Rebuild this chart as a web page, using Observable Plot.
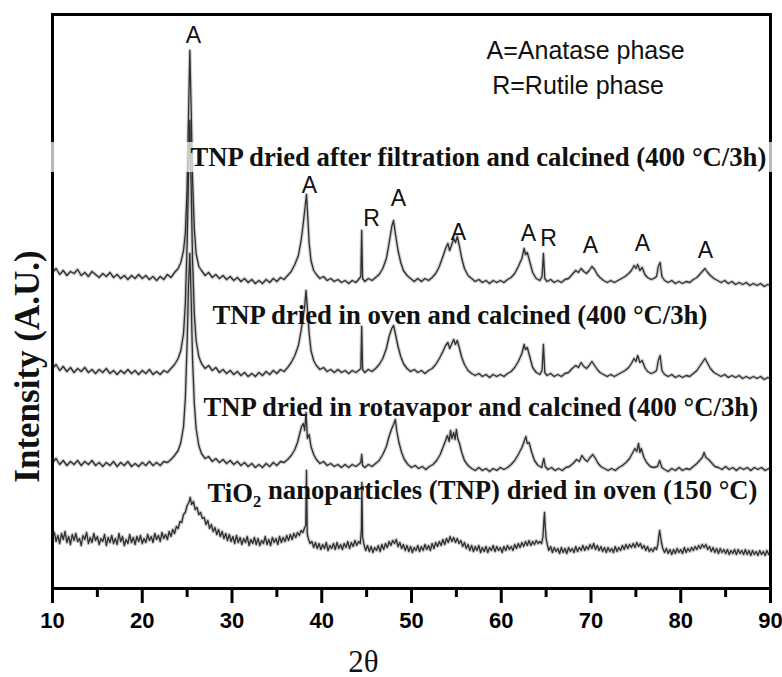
<!DOCTYPE html>
<html>
<head>
<meta charset="utf-8">
<script src="https://cdn.jsdelivr.net/npm/d3@7"></script>
<script src="https://cdn.jsdelivr.net/npm/@observablehq/plot@0.6"></script>
<style>
  html, body { margin: 0; padding: 0; background: #fff; }
  #chart svg { display: block; }
</style>
</head>
<body>
<div id="chart"></div>
<script>
// XRD patterns of TiO2 nanoparticles, [2θ (deg), intensity (A.U., stacked)]
const filtrationCalcined = [
  [10.0,316],[10.4,320],[10.8,314],[11.2,318],[11.6,313],[12.0,317],[12.4,315],[12.8,319],[13.2,313],[13.6,316],
  [14.0,312],[14.4,317],[14.8,314],[15.2,311],[15.6,315],[16.0,312],[16.4,316],[16.8,311],[17.2,314],[17.6,310],
  [18.0,313],[18.4,309],[18.8,313],[19.2,310],[19.6,314],[20.0,310],[20.4,313],[20.8,309],[21.2,312],[21.6,308],
  [22.0,312],[22.4,309],[22.8,314],[23.2,311],[23.6,316],[24.0,320],[24.3,326],[24.6,338],[24.8,355],[25.0,400],
  [25.15,470],[25.3,538],[25.45,480],[25.6,410],[25.8,360],[26.0,335],[26.3,322],[26.6,318],[27.0,313],[27.4,316],
  [27.8,311],[28.2,314],[28.6,310],[29.0,313],[29.4,309],[29.8,312],[30.2,308],[30.6,311],[31.0,307],[31.4,310],
  [31.8,306],[32.2,309],[32.6,305],[33.0,308],[33.4,305],[33.8,309],[34.2,306],[34.6,310],[35.0,307],[35.4,311],
  [35.8,309],[36.2,313],[36.6,317],[37.0,324],[37.4,333],[37.7,348],[37.9,362],[38.1,378],[38.3,394],[38.45,370],
  [38.6,345],[38.8,328],[39.1,318],[39.4,314],[39.8,310],[40.2,312],[40.6,308],[41.0,310],[41.4,307],[41.8,309],
  [42.2,306],[42.6,308],[43.0,305],[43.4,308],[43.8,306],[44.1,309],[44.35,312],[44.45,358],[44.55,310],[44.8,307],
  [45.2,310],[45.6,308],[46.0,311],[46.4,314],[46.8,320],[47.2,330],[47.5,345],[47.8,362],[48.0,368],[48.2,355],
  [48.5,338],[48.8,326],[49.1,318],[49.5,313],[49.9,310],[50.3,307],[50.7,310],[51.1,307],[51.5,310],[51.9,308],
  [52.3,311],[52.7,315],[53.1,322],[53.5,332],[53.8,340],[54.05,345],[54.25,338],[54.45,343],[54.7,350],[54.9,346],
  [55.1,352],[55.35,342],[55.6,330],[55.9,320],[56.3,313],[56.7,310],[57.1,307],[57.5,309],[57.9,306],[58.3,308],
  [58.7,305],[59.1,308],[59.5,306],[59.9,308],[60.3,306],[60.7,309],[61.1,311],[61.5,315],[61.9,322],[62.3,330],
  [62.55,340],[62.7,334],[62.9,336],[63.2,326],[63.5,316],[63.9,310],[64.3,308],[64.55,312],[64.7,335],[64.85,310],
  [65.1,307],[65.5,309],[65.9,306],[66.3,308],[66.7,306],[67.1,309],[67.5,310],[67.9,314],[68.3,318],[68.6,316],
  [68.9,320],[69.2,317],[69.5,315],[69.8,318],[70.1,322],[70.4,319],[70.7,314],[71.0,311],[71.4,308],[71.8,306],
  [72.2,308],[72.6,306],[73.0,308],[73.4,310],[73.8,312],[74.2,315],[74.5,318],[74.8,323],[75.0,320],[75.2,324],
  [75.45,318],[75.7,321],[76.0,314],[76.3,311],[76.7,309],[77.0,310],[77.3,312],[77.5,322],[77.7,326],[77.9,312],
  [78.2,308],[78.6,306],[79.0,308],[79.4,305],[79.8,307],[80.2,305],[80.6,307],[81.0,306],[81.4,309],[81.8,311],
  [82.1,314],[82.4,317],[82.7,320],[83.0,316],[83.3,313],[83.7,310],[84.1,308],[84.5,306],[84.9,308],[85.3,305],
  [85.7,307],[86.1,304],[86.5,306],[86.9,304],[87.3,306],[87.7,303],[88.1,305],[88.5,303],[88.9,305],[89.3,302],
  [89.7,304],[90.0,303]
];

const ovenCalcined = [
  [10.0,220],[10.4,224],[10.8,218],[11.2,222],[11.6,217],[12.0,221],[12.4,216],[12.8,220],[13.2,217],[13.6,221],
  [14.0,216],[14.4,219],[14.8,215],[15.2,219],[15.6,216],[16.0,220],[16.4,215],[16.8,218],[17.2,214],[17.6,218],
  [18.0,215],[18.4,219],[18.8,215],[19.2,218],[19.6,214],[20.0,218],[20.4,215],[20.8,219],[21.2,214],[21.6,217],
  [22.0,214],[22.4,218],[22.8,216],[23.2,220],[23.6,224],[24.0,230],[24.3,238],[24.6,255],[24.8,285],[25.0,345],
  [25.15,410],[25.3,468],[25.45,400],[25.6,330],[25.8,275],[26.0,248],[26.3,232],[26.6,225],[27.0,220],[27.4,223],
  [27.8,218],[28.2,221],[28.6,216],[29.0,219],[29.4,215],[29.8,218],[30.2,214],[30.6,217],[31.0,213],[31.4,216],
  [31.8,212],[32.2,215],[32.6,212],[33.0,216],[33.4,213],[33.8,217],[34.2,214],[34.6,218],[35.0,215],[35.4,219],
  [35.8,217],[36.2,221],[36.6,226],[37.0,233],[37.4,243],[37.7,258],[37.9,270],[38.1,282],[38.25,298],[38.4,280],
  [38.6,255],[38.8,238],[39.1,228],[39.4,223],[39.8,219],[40.2,221],[40.6,217],[41.0,219],[41.4,216],[41.8,219],
  [42.2,216],[42.6,218],[43.0,215],[43.4,218],[43.8,216],[44.1,218],[44.35,220],[44.45,262],[44.55,219],[44.8,216],
  [45.2,219],[45.6,217],[46.0,220],[46.4,224],[46.8,230],[47.2,240],[47.5,252],[47.8,260],[48.0,263],[48.2,255],
  [48.5,242],[48.8,232],[49.1,225],[49.5,220],[49.9,217],[50.3,219],[50.7,216],[51.1,218],[51.5,215],[51.9,218],
  [52.3,220],[52.7,224],[53.1,230],[53.5,237],[53.8,243],[54.05,246],[54.25,240],[54.45,244],[54.7,249],[54.9,244],
  [55.1,248],[55.35,240],[55.6,231],[55.9,224],[56.3,218],[56.7,215],[57.1,213],[57.5,215],[57.9,212],[58.3,214],
  [58.7,211],[59.1,214],[59.5,212],[59.9,214],[60.3,212],[60.7,215],[61.1,217],[61.5,221],[61.9,227],[62.3,235],
  [62.55,244],[62.7,239],[62.9,241],[63.2,231],[63.5,221],[63.9,216],[64.3,214],[64.55,218],[64.7,244],[64.85,216],
  [65.1,213],[65.5,215],[65.9,212],[66.3,214],[66.7,212],[67.1,215],[67.5,216],[67.9,220],[68.3,223],[68.6,221],
  [68.9,226],[69.2,222],[69.5,220],[69.8,223],[70.1,227],[70.4,223],[70.7,219],[71.0,216],[71.4,214],[71.8,212],
  [72.2,214],[72.6,212],[73.0,214],[73.4,216],[73.8,218],[74.2,221],[74.5,225],[74.8,230],[75.0,227],[75.2,233],
  [75.45,226],[75.7,228],[76.0,221],[76.3,217],[76.7,215],[77.0,216],[77.3,218],[77.5,228],[77.7,233],[77.9,218],
  [78.2,214],[78.6,212],[79.0,214],[79.4,211],[79.8,213],[80.2,211],[80.6,213],[81.0,212],[81.4,215],[81.8,218],
  [82.1,222],[82.4,226],[82.7,230],[83.0,225],[83.3,220],[83.7,216],[84.1,214],[84.5,212],[84.9,214],[85.3,211],
  [85.7,213],[86.1,211],[86.5,213],[86.9,210],[87.3,212],[87.7,210],[88.1,212],[88.5,210],[88.9,212],[89.3,209],
  [89.7,211],[90.0,210]
];

const rotavaporCalcined = [
  [10.0,126],[10.4,130],[10.8,124],[11.2,128],[11.6,123],[12.0,127],[12.4,124],[12.8,128],[13.2,123],[13.6,127],
  [14.0,124],[14.4,128],[14.8,123],[15.2,126],[15.6,122],[16.0,126],[16.4,123],[16.8,127],[17.2,122],[17.6,126],
  [18.0,123],[18.4,127],[18.8,122],[19.2,125],[19.6,122],[20.0,126],[20.4,123],[20.8,127],[21.2,123],[21.6,126],
  [22.0,123],[22.4,127],[22.8,126],[23.2,129],[23.6,133],[24.0,138],[24.3,146],[24.6,162],[24.8,190],[25.0,245],
  [25.15,300],[25.3,335],[25.45,290],[25.6,230],[25.8,185],[26.0,160],[26.3,143],[26.6,135],[27.0,130],[27.4,132],
  [27.8,127],[28.2,130],[28.6,126],[29.0,129],[29.4,125],[29.8,128],[30.2,124],[30.6,127],[31.0,123],[31.4,126],
  [31.8,122],[32.2,125],[32.6,121],[33.0,124],[33.4,121],[33.8,125],[34.2,122],[34.6,126],[35.0,123],[35.4,127],
  [35.8,126],[36.2,129],[36.6,133],[37.0,139],[37.3,146],[37.55,155],[37.75,162],[37.95,165],[38.1,158],[38.25,176],
  [38.4,150],[38.6,154],[38.8,142],[39.1,134],[39.4,129],[39.8,125],[40.2,127],[40.6,123],[41.0,125],[41.4,122],
  [41.8,124],[42.2,121],[42.6,124],[43.0,121],[43.4,124],[43.8,122],[44.1,124],[44.35,126],[44.45,134],[44.55,123],
  [44.8,121],[45.2,124],[45.6,122],[46.0,125],[46.4,128],[46.8,134],[47.2,142],[47.5,152],[47.8,160],[48.0,164],
  [48.2,169],[48.35,158],[48.6,146],[48.9,136],[49.2,129],[49.6,124],[50.0,121],[50.4,123],[50.8,120],[51.2,122],
  [51.6,119],[52.0,122],[52.4,124],[52.8,128],[53.2,134],[53.5,141],[53.8,148],[54.0,153],[54.2,147],[54.35,158],
  [54.5,150],[54.7,156],[54.85,149],[55.0,159],[55.15,150],[55.35,145],[55.6,136],[55.9,128],[56.3,123],[56.7,120],
  [57.1,118],[57.5,121],[57.9,118],[58.3,120],[58.7,117],[59.1,120],[59.5,118],[59.9,121],[60.3,119],[60.7,121],
  [61.1,124],[61.5,128],[61.9,134],[62.3,141],[62.55,147],[62.75,152],[62.9,145],[63.1,146],[63.4,136],[63.7,128],
  [64.1,123],[64.5,121],[64.75,130],[64.9,122],[65.2,119],[65.6,121],[66.0,118],[66.4,120],[66.8,118],[67.2,121],
  [67.6,122],[68.0,125],[68.4,129],[68.7,127],[69.0,133],[69.3,129],[69.6,127],[69.9,131],[70.2,134],[70.5,130],
  [70.8,125],[71.1,122],[71.5,120],[71.9,118],[72.3,120],[72.7,118],[73.1,121],[73.5,123],[73.9,126],[74.3,130],
  [74.6,135],[74.9,140],[75.1,137],[75.3,145],[75.45,136],[75.6,140],[75.9,131],[76.2,126],[76.6,122],[77.0,121],
  [77.4,122],[77.65,128],[77.9,121],[78.2,119],[78.6,117],[79.0,120],[79.4,118],[79.8,121],[80.2,118],[80.6,120],
  [81.0,119],[81.4,122],[81.8,125],[82.1,128],[82.4,131],[82.6,136],[82.8,131],[83.1,129],[83.4,126],[83.8,122],
  [84.2,121],[84.6,119],[85.0,122],[85.4,119],[85.8,121],[86.2,118],[86.6,121],[87.0,119],[87.4,121],[87.8,118],
  [88.2,121],[88.6,119],[89.0,121],[89.4,118],[89.8,120],[90.0,119]
];

const ovenDried150 = [
  [10.0,51],[10.2,56],[10.4,47],[10.6,53],[10.8,45],[11.0,55],[11.2,49],[11.4,57],[11.6,46],[11.8,52],
  [12.0,44],[12.2,54],[12.4,48],[12.6,55],[12.8,47],[13.0,50],[13.2,43],[13.4,53],[13.6,49],[13.8,56],
  [14.0,45],[14.2,51],[14.4,46],[14.6,55],[14.8,48],[15.0,52],[15.2,44],[15.4,50],[15.6,47],[15.8,54],
  [16.0,43],[16.2,51],[16.4,46],[16.6,53],[16.8,45],[17.0,50],[17.2,44],[17.4,55],[17.6,47],[17.8,52],
  [18.0,43],[18.2,49],[18.4,45],[18.6,54],[18.8,46],[19.0,51],[19.2,44],[19.4,52],[19.6,47],[19.8,53],
  [20.0,45],[20.2,50],[20.4,46],[20.6,54],[20.8,48],[21.0,52],[21.2,46],[21.4,55],[21.6,49],[21.8,53],
  [22.0,47],[22.2,56],[22.4,50],[22.6,54],[22.8,49],[23.0,57],[23.2,52],[23.4,59],[23.6,55],[23.8,62],
  [24.0,60],[24.2,67],[24.4,66],[24.6,74],[24.8,76],[25.0,83],[25.2,86],[25.35,91],[25.5,84],[25.7,87],
  [25.9,79],[26.1,81],[26.3,74],[26.5,76],[26.7,70],[26.9,71],[27.1,64],[27.3,68],[27.5,60],[27.7,64],
  [27.9,57],[28.1,61],[28.3,54],[28.5,59],[28.7,52],[28.9,57],[29.1,50],[29.3,55],[29.5,48],[29.7,54],
  [29.9,47],[30.1,52],[30.3,45],[30.5,53],[30.7,46],[30.9,51],[31.1,44],[31.3,50],[31.5,46],[31.7,52],
  [31.9,43],[32.1,49],[32.3,45],[32.5,51],[32.7,44],[32.9,50],[33.1,43],[33.3,48],[33.5,45],[33.7,52],
  [33.9,44],[34.1,49],[34.3,43],[34.5,51],[34.7,46],[34.9,50],[35.1,44],[35.3,52],[35.5,46],[35.7,51],
  [35.9,47],[36.1,53],[36.3,48],[36.5,54],[36.7,49],[36.9,55],[37.1,51],[37.3,56],[37.5,53],[37.7,58],
  [37.9,56],[38.1,61],[38.22,63],[38.3,118],[38.38,55],[38.5,50],[38.7,45],[38.9,47],[39.1,41],[39.3,46],
  [39.5,40],[39.7,45],[39.9,39],[40.1,44],[40.3,40],[40.5,46],[40.7,38],[40.9,43],[41.1,40],[41.3,45],
  [41.5,39],[41.7,46],[41.9,40],[42.1,44],[42.3,39],[42.5,45],[42.7,41],[42.9,47],[43.1,40],[43.3,46],
  [43.5,42],[43.7,48],[43.9,43],[44.1,47],[44.3,45],[44.42,60],[44.47,106],[44.55,52],[44.7,44],[44.9,38],
  [45.1,43],[45.3,37],[45.5,42],[45.7,36],[45.9,41],[46.1,38],[46.3,43],[46.5,37],[46.7,44],[46.9,39],
  [47.1,45],[47.3,41],[47.5,47],[47.7,43],[47.9,48],[48.1,45],[48.3,49],[48.5,42],[48.7,46],[48.9,40],
  [49.1,44],[49.3,38],[49.5,43],[49.7,37],[49.9,42],[50.1,36],[50.3,41],[50.5,38],[50.7,43],[50.9,37],
  [51.1,42],[51.3,38],[51.5,44],[51.7,39],[51.9,43],[52.1,38],[52.3,45],[52.5,40],[52.7,46],[52.9,42],
  [53.1,47],[53.3,43],[53.5,49],[53.7,44],[53.9,50],[54.1,46],[54.3,52],[54.5,47],[54.7,51],[54.9,46],
  [55.1,50],[55.3,45],[55.5,48],[55.7,42],[55.9,46],[56.1,40],[56.3,44],[56.5,38],[56.7,43],[56.9,37],
  [57.1,42],[57.3,38],[57.5,43],[57.7,36],[57.9,41],[58.1,37],[58.3,42],[58.5,36],[58.7,41],[58.9,38],
  [59.1,43],[59.3,37],[59.5,42],[59.7,38],[59.9,41],[60.1,36],[60.3,42],[60.5,38],[60.7,43],[60.9,39],
  [61.1,42],[61.3,38],[61.5,44],[61.7,40],[61.9,45],[62.1,41],[62.3,46],[62.5,42],[62.7,47],[62.9,43],
  [63.1,48],[63.3,43],[63.5,47],[63.7,44],[63.9,48],[64.1,45],[64.3,47],[64.5,45],[64.65,52],[64.75,68],
  [64.82,76],[64.9,62],[65.0,50],[65.15,43],[65.3,38],[65.5,42],[65.7,36],[65.9,41],[66.1,37],[66.3,40],
  [66.5,35],[66.7,41],[66.9,36],[67.1,40],[67.3,35],[67.5,41],[67.7,37],[67.9,40],[68.1,36],[68.3,42],
  [68.5,37],[68.7,41],[68.9,38],[69.1,43],[69.3,38],[69.5,42],[69.7,39],[69.9,44],[70.1,40],[70.3,45],
  [70.5,39],[70.7,43],[70.9,38],[71.1,42],[71.3,37],[71.5,41],[71.7,36],[71.9,41],[72.1,37],[72.3,40],
  [72.5,36],[72.7,42],[72.9,37],[73.1,41],[73.3,38],[73.5,43],[73.7,39],[73.9,44],[74.1,40],[74.3,44],
  [74.5,41],[74.7,45],[74.9,41],[75.1,46],[75.3,42],[75.5,45],[75.7,40],[75.9,43],[76.1,38],[76.3,42],
  [76.5,37],[76.7,40],[76.9,37],[77.1,41],[77.3,39],[77.45,44],[77.55,52],[77.65,58],[77.75,52],[77.85,46],
  [78.0,40],[78.2,36],[78.4,40],[78.6,35],[78.8,39],[79.0,34],[79.2,39],[79.4,35],[79.6,40],[79.8,36],
  [80.0,39],[80.2,35],[80.4,41],[80.6,36],[80.8,40],[81.0,37],[81.2,41],[81.4,38],[81.6,42],[81.8,39],
  [82.0,43],[82.2,40],[82.4,44],[82.6,41],[82.8,44],[83.0,39],[83.2,42],[83.4,37],[83.6,41],[83.8,36],
  [84.0,40],[84.2,35],[84.4,40],[84.6,36],[84.8,39],[85.0,35],[85.2,39],[85.4,34],[85.6,38],[85.8,35],
  [86.0,39],[86.2,34],[86.4,39],[86.6,35],[86.8,38],[87.0,34],[87.2,39],[87.4,34],[87.6,38],[87.8,33],
  [88.0,38],[88.2,34],[88.4,37],[88.6,33],[88.8,38],[89.0,34],[89.2,37],[89.4,33],[89.6,38],[89.8,34],
  [90.0,36]
];

// Sample labels placed above each pattern
const sampleLabels = [
  {x: 25.38, y: 431, text: "TNP dried after filtration and calcined (400 °C/3h)"},
  {x: 27.83, y: 273, text: "TNP dried in oven and calcined (400 °C/3h)"},
  {x: 26.82, y: 181, text: "TNP dried in rotavapor and calcined (400 °C/3h)"},
  {x: 27.27, y: 95,  text: "TiO₂ nanoparticles (TNP) dried in oven (150 °C)"}
];

// Phase assignments of the reflections (A = anatase, R = rutile)
const phaseMarks = [
  {x: 25.71, y: 553, text: "A"},
  {x: 38.64, y: 403, text: "A"},
  {x: 45.54, y: 370, text: "R"},
  {x: 48.55, y: 390, text: "A"},
  {x: 55.24, y: 356, text: "A"},
  {x: 63.04, y: 355, text: "A"},
  {x: 65.27, y: 350, text: "R"},
  {x: 69.94, y: 343, text: "A"},
  {x: 75.74, y: 345, text: "A"},
  {x: 82.76, y: 338, text: "A"}
];

const keyLines = [
  {x: 69.4, y: 538, text: "A=Anatase phase"},
  {x: 68.55, y: 503, text: "R=Rutile phase"}
];

const majorTicks = [10, 20, 30, 40, 50, 60, 70, 80, 90];
const minorTicks = [15, 25, 35, 45, 55, 65, 75, 85];

const serif = "'Liberation Serif', 'Times New Roman', Times, serif";
const sans = "'Liberation Sans', Arial, Helvetica, sans-serif";
const traceColor = "#262626";

const traces = [filtrationCalcined, ovenCalcined, rotavaporCalcined, ovenDried150];

const chart = Plot.plot({
  width: 782,
  height: 677,
  marginLeft: 52,
  marginRight: 12,
  marginTop: 14,
  marginBottom: 89,
  x: {domain: [10, 90]},
  y: {domain: [0, 574], axis: null},
  style: {background: "#fff", color: "#000"},
  marks: [
    // soft halo under each scan, then the scan itself
    ...traces.map(t => Plot.line(t, {
      x: d => d[0], y: d => d[1],
      stroke: traceColor, strokeWidth: 3.6, strokeOpacity: 0.22
    })),
    ...traces.map(t => Plot.line(t, {
      x: d => d[0], y: d => d[1],
      stroke: traceColor, strokeWidth: 1.3, strokeOpacity: 0.95
    })),
    Plot.frame({stroke: "#000", strokeWidth: 3}),
    // pale band behind the first sample label
    Plot.rect([{y1: 416, y2: 446}], {
      x1: 4.2, x2: 91.3, y1: "y1", y2: "y2", fill: "#fff", fillOpacity: 0.72
    }),
    Plot.axisX({
      ticks: majorTicks, tickSize: 15, tickPadding: 9, strokeWidth: 3,
      fontSize: 22, fontWeight: "bold", fontFamily: sans, label: null,
      tickFormat: d => String(d)
    }),
    Plot.axisX({ticks: minorTicks, tickSize: 9, strokeWidth: 3, text: null, label: null}),
    Plot.text(sampleLabels, {
      x: "x", y: "y", text: "text", textAnchor: "start",
      fontSize: 26.7, fontWeight: "bold", fontFamily: serif, fill: "#111"
    }),
    Plot.text(phaseMarks, {
      x: "x", y: "y", text: "text", fontSize: 23, fontFamily: sans, fill: "#111"
    }),
    Plot.text(keyLines, {
      x: "x", y: "y", text: "text", textAnchor: "middle",
      fontSize: 25, fontFamily: sans, fill: "#111"
    }),
    Plot.text(["Intensity (A.U.)"], {
      y: [222], frameAnchor: "left", dx: -25, rotate: -90, textAnchor: "middle",
      fontSize: 35, fontWeight: "bold", fontFamily: serif, fill: "#111"
    }),
    Plot.text(["2θ"], {
      x: [44.65], frameAnchor: "bottom", dy: 83,
      fontSize: 31, fontFamily: serif, fill: "#111"
    })
  ]
});

// Subscript for the chemical formula in the sample label
d3.select(chart).selectAll("text").each(function() {
  const el = d3.select(this);
  const s = this.textContent;
  if (s.includes("₂")) {
    const [before, after] = s.split("₂");
    el.text(null);
    el.append("tspan").text(before);
    el.append("tspan").attr("dy", "0.3em").attr("font-size", "0.62em").text("2");
    el.append("tspan").attr("dy", "-0.3em").text(after);
  }
});

document.getElementById("chart").appendChild(chart);
</script>
</body>
</html>
